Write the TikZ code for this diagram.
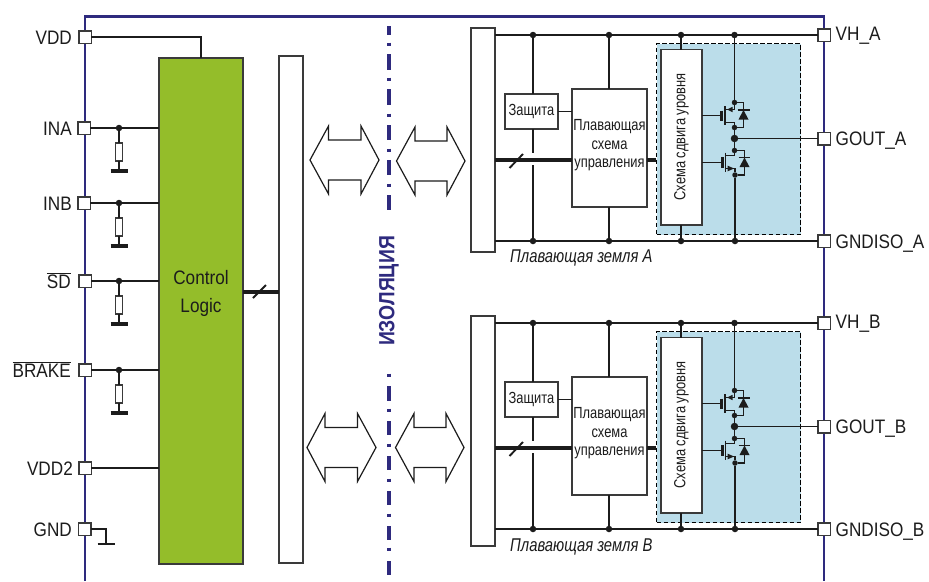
\documentclass[tikz,border=0pt]{standalone}
\usepackage{fontspec}
\setmainfont[FakeStretch=0.88]{Liberation Sans}
\newfontfamily\narrowfont[FakeStretch=0.80]{Liberation Sans}
\definecolor{navyline}{HTML}{2E2A7E}
\definecolor{logicgreen}{HTML}{94BD2A}
\definecolor{panelblue}{HTML}{BBDDEA}
\definecolor{ink}{HTML}{1C1C1C}
\definecolor{edge}{HTML}{3A3A3A}
\tikzset{
  wire/.style={line width=1.9pt,draw=ink},
  busline/.style={line width=3.4pt,draw=ink},
  thinwire/.style={line width=1.4pt,draw=ink},
  frameline/.style={line width=2.8pt,draw=navyline},
  isoline/.style={line width=3.4pt,draw=navyline},
  pinbox/.style={draw=edge,fill=white,line width=1.5pt,minimum width=12.5pt,minimum height=12.5pt,inner sep=0pt,outer sep=0pt},
  blockbox/.style={draw=edge,fill=white,line width=1.5pt,inner sep=0pt,outer sep=0pt},
  resbox/.style={draw=edge,fill=white,line width=1.3pt,minimum width=7pt,minimum height=18pt,inner sep=0pt,outer sep=0pt},
  junction/.style={circle,fill=ink,inner sep=0pt,outer sep=0pt,minimum size=6.5pt},
  bigjunction/.style={circle,fill=ink,inner sep=0pt,outer sep=0pt,minimum size=7.5pt},
  pinlabel/.style={inner sep=0pt,text=ink,font=\fontsize{19.5}{19.5}\selectfont},
  smalltext/.style={inner sep=0pt,text=ink,align=center,font=\narrowfont\fontsize{16.1}{18.5}\selectfont},
  arrowshape/.style={draw=ink,line width=1.2pt,fill=white,line join=miter},
}
\newcommand{\doublearrow}[8]{% tipL shoulderL shoulderR tipR ymid youterT yinnerT youterB
  \draw[arrowshape] (#1,#5) -- (#2,#6) -- (#2,#7) -- (#3,#7) -- (#3,#6) -- (#4,#5)
     -- (#3,#8) -- (#3,#5+#5-#7) -- (#2,#5+#5-#7) -- (#2,#8) -- cycle;}
\newcommand{\resleg}[3]{% name, x, y of pin
  \node[junction] (j#1) at (#2,#3) {};
  \node[resbox] (r#1) at (#2,#3+24) {};
  \coordinate (g#1) at (#2,#3+43);
  \draw[wire] (j#1) -- (r#1);
  \draw[wire] (r#1) -- (g#1);
  \draw[line width=3.4pt,draw=ink] ([xshift=-8.5pt]g#1) -- ([xshift=8.5pt]g#1);
}
\newcommand{\floatgroup}[5]{% suffix, y shift, label letter, bar height, label baseline
\begin{scope}[yshift=-#2pt]
  \node[draw=black,fill=panelblue,dash pattern=on 4.5pt off 2.5pt,line width=1.3pt,minimum width=144pt,minimum height=191pt,inner sep=0pt,anchor=north west] (panel#1) at (656,43) {};
  \node[pinbox] (vh#1) at (824,35) {};
  \node[pinbox] (go#1) at (824,138.5) {};
  \node[pinbox] (gn#1) at (824,241) {};
  \node[junction] (ta#1) at (533,35) {};
  \node[junction] (tb#1) at (609,35) {};
  \node[junction] (tc#1) at (681,35) {};
  \node[junction] (td#1) at (734.5,35) {};
  \node[junction] (ba#1) at (533,241) {};
  \node[junction] (bb#1) at (609,241) {};
  \node[junction] (bc#1) at (681,241) {};
  \node[junction] (bd#1) at (735,241) {};
  \node[blockbox,minimum width=24pt,minimum height=#4pt,anchor=north west] (bar#1) at (471,28) {};
  \node[blockbox,minimum width=53pt,minimum height=35pt,anchor=north west,smalltext] (prot#1) at (505,94) {Защита};
  \node[blockbox,minimum width=75pt,minimum height=118pt,anchor=north west] (drv#1) at (572,89) {};
  \node[smalltext] at (609.5,145.5) {Плавающая\\схема\\управления};
  \node[blockbox,minimum width=41pt,minimum height=175.5pt,anchor=north west] (shift#1) at (661,49.5) {};
  \node[smalltext,rotate=90] at (681.5,137) {Схема сдвига уровня};
  % rails
  \coordinate (rt#1) at (bar#1.east|-vh#1);
  \coordinate (rb#1) at (bar#1.east|-gn#1);
  \draw[wire] (rt#1) -- (vh#1);
  \draw[wire] (rb#1) -- (gn#1);
  \draw[wire] (ta#1) -- (prot#1.north-|ta#1);
  \coordinate (ga#1) at (533,153);
  \coordinate (gb#1) at (533,165);
  \draw[wire] (prot#1.south-|ta#1) -- (ga#1);
  \draw[wire] (gb#1) -- (ba#1);
  \draw[wire] (tb#1) -- (drv#1.north-|tb#1);
  \draw[wire] (drv#1.south-|tb#1) -- (bb#1);
  \draw[wire] (tc#1) -- (shift#1.north-|tc#1);
  \draw[wire] (shift#1.south-|tc#1) -- (bc#1);
  \coordinate (pd#1) at (prot#1.east|-0,111.5);
  \draw[wire] (pd#1) -- (drv#1.west|-pd#1);
  \coordinate (bs#1) at (bar#1.east|-0,160);
  \draw[busline] (bs#1) -- (drv#1.west|-bs#1);
  \draw[busline] (drv#1.east|-bs#1) -- (panel#1.west|-bs#1);
  \coordinate (sa#1) at (509.5,168);
  \coordinate (sb#1) at (523,154);
  \draw[wire] (sa#1) -- (sb#1);
  % high-side transistor
  \node[junction,minimum size=5.5pt] (hd#1) at (734.5,102.5) {};
  \node[junction,minimum size=5.5pt] (hs#1) at (734.5,127.5) {};
  \node[bigjunction] (mid#1) at (734.5,138.5) {};
  \node[junction,minimum size=5.5pt] (ld#1) at (734.5,150.5) {};
  \node[junction,minimum size=5.5pt] (ls#1) at (735,175) {};
  \draw[wire] (td#1) -- (hd#1);
  \draw[wire] (hs#1) -- (mid#1) -- (ld#1);
  \draw[wire] (ls#1) -- (bd#1);
  \draw[wire] (mid#1) -- (go#1);
  \coordinate (hg#1) at (shift#1.east|-0,115.5);
  \coordinate (lg#1) at (shift#1.east|-0,162.5);
  \draw[wire] (hg#1) -- (721.5,115.5);
  \draw[line width=2.6pt,draw=ink] (721.5,110.5) -- (721.5,120.5);
  \draw[thinwire] (725,106) -- (725,125);
  \draw[wire] (725,109.5) -- (734.5,109.5) -- (hd#1);
  \draw[wire] (725,122.5) -- (734.5,122.5) -- (hs#1);
  \fill[ink] (727,109.5) -- (732.5,106.8) -- (732.5,112.2) -- cycle;
  \draw[wire] (hd#1) -- (743.5,102.5) -- (743.5,127.5) -- (hs#1);
  \fill[ink] (743.5,110) -- (748.5,119.5) -- (738.5,119.5) -- cycle;
  \draw[line width=1.8pt,draw=ink] (737.5,110) -- (749.5,110);
  % low-side transistor
  \draw[wire] (lg#1) -- (722,162.5);
  \draw[line width=2.6pt,draw=ink] (722.5,157) -- (722.5,168);
  \draw[thinwire] (725.5,152.5) -- (725.5,172);
  \draw[wire] (725.5,155.5) -- (734.5,155.5) -- (ld#1);
  \draw[wire] (725.5,168.5) -- (735,168.5) -- (ls#1);
  \fill[ink] (734,168.5) -- (727.5,165.6) -- (727.5,171.4) -- cycle;
  \draw[wire] (ld#1) -- (744.5,150.5) -- (744.5,175) -- (ls#1);
  \fill[ink] (744.5,157.5) -- (749.5,167) -- (739.5,167) -- cycle;
  \draw[line width=1.8pt,draw=ink] (738.5,157.5) -- (750,157.5);
  % labels
  \node[pinlabel,anchor=base west] at (835.5,40) {VH\_#1};
  \node[pinlabel,anchor=base west] at (835.5,145.5) {GOUT\_#1};
  \node[pinlabel,anchor=base west] at (835.5,248) {GNDISO\_#1};
  \node[inner sep=0pt,text=ink,anchor=base west,font=\narrowfont\itshape\fontsize{18.5}{18.5}\selectfont] at (510,#5) {Плавающая земля #3};
\end{scope}}
\begin{document}
\begin{tikzpicture}[x=1pt,y=-1pt]
\useasboundingbox (0,0) rectangle (929,581);
\fill[white] (0,0) rectangle (929,581);
% package outline
\coordinate (fbl) at (85,581);
\coordinate (ftl) at (85,16.5);
\coordinate (ftr) at (824,16.5);
\coordinate (fbr) at (824,581);
\draw[frameline] (fbl) -- (ftl) -- (ftr) -- (fbr);
% isolation line
\foreach \a/\b in {26/35,54/70,89/105,125/140,160/175,195/210,386/400.5,421/435,456/470,491/505,526/540,561/575}
  \draw[isoline] (389,\a) -- (389,\b);
\foreach \d in {44,79,115,150,185,375,410,445,480,515,549}
  \draw[isoline] (389,\d-1.5) -- (389,\d+1.5);
\node[rotate=90,inner sep=0pt,text=navyline,font=\bfseries\fontsize{22}{22}\selectfont] (iso) at (389,291) {ИЗОЛЯЦИЯ};
% pins
\node[pinbox] (vdd) at (85,37) {};
\node[pinbox] (ina) at (84,128) {};
\node[pinbox] (inb) at (84,203) {};
\node[pinbox] (sd) at (85,281) {};
\node[pinbox] (brake) at (85,370) {};
\node[pinbox] (vddb) at (85,468) {};
\node[pinbox] (gnd) at (84.5,529) {};
\node[pinlabel,anchor=base east] at (72,44) {VDD};
\node[pinlabel,anchor=base east] at (72,135) {INA};
\node[pinlabel,anchor=base east] at (72,210) {INB};
\node[pinlabel,anchor=base east] at (71,288) {$\overline{\mbox{SD}}$};
\node[pinlabel,anchor=base east] at (71,377) {$\overline{\mbox{BRAKE}}$};
\node[pinlabel,anchor=base east] at (73,475) {VDD2};
\node[pinlabel,anchor=base east] at (72,536) {GND};
% control logic
\node[draw=edge,fill=logicgreen,line width=1.5pt,minimum width=84pt,minimum height=506pt,inner sep=0pt,outer sep=0pt,anchor=north west] (logic) at (159,58) {};
\node[inner sep=0pt,text=ink,align=center,font=\fontsize{19.5}{28}\selectfont] at (201,293) {Control\\Logic};
\node[blockbox,minimum width=24pt,minimum height=507pt,anchor=north west] (lbar) at (279,56) {};
\coordinate (vt) at (logic.north);
\draw[wire] (vdd) -| (vt);
\foreach \p in {ina,inb,sd,brake,vddb}
  \draw[wire] (\p) -- (logic.west|-\p);
\resleg{a}{119}{128}
\resleg{b}{119}{203}
\resleg{c}{119}{281}
\resleg{d}{119}{370}
\coordinate (gg) at (106,544);
\draw[wire] (gnd) -| (gg);
\draw[line width=2.8pt,draw=ink] ([xshift=-8.5pt]gg) -- ([xshift=8.5pt]gg);
\coordinate (bl) at (logic.east|-0,292);
\draw[busline] (bl) -- (lbar.west|-bl);
\coordinate (sla) at (253,298);
\coordinate (slb) at (266,285);
\draw[wire] (sla) -- (slb);
% data arrows
\doublearrow{310}{328.5}{361}{379}{160}{126}{140}{194}
\doublearrow{396.5}{415}{447}{465}{161}{127}{141}{195}
\doublearrow{307}{325}{357.5}{376}{447.5}{413.5}{427.5}{481.5}
\doublearrow{395.5}{414}{446}{464}{447.5}{413.5}{427.5}{481.5}
% floating sections
\floatgroup{A}{0}{А}{224}{262}
\floatgroup{B}{288}{В}{230}{263}
\end{tikzpicture}
\end{document}
